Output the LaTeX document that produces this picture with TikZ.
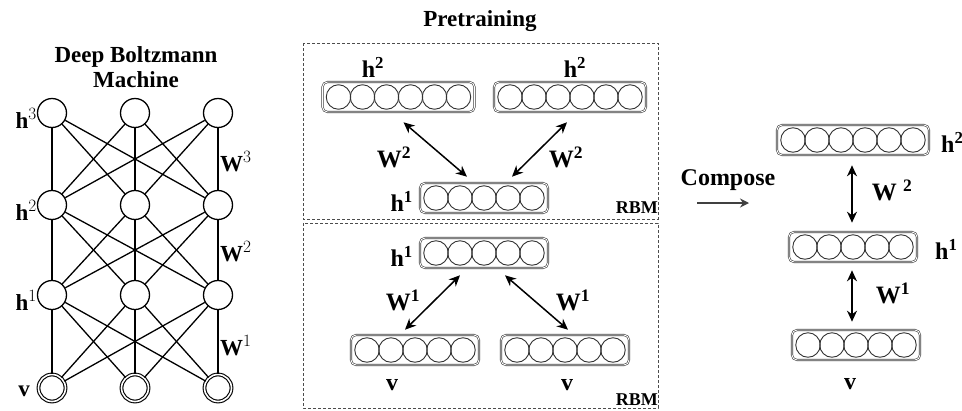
\documentclass[tikz,border=0pt]{standalone}
\usepackage{fontspec}
\setmainfont{Liberation Serif}
\usetikzlibrary{arrows.meta}

\newcommand\fsz[1]{\fontsize{#1}{#1}\selectfont}

% a layer of units: rounded bar holding #4 touching circles
\newcommand\unitlayer[4]{%
  \node[layerbox, minimum width={#4*24+8}] (#1) at (#2,#3) {};
  \foreach \k in {1,...,#4} {
    \node[unitcirc] (#1-\k) at ({#2+(\k-(#4+1)/2)*24},#3) {};
  }%
}

\tikzset{
  dbmnode/.style={circle, draw, line width=1.3pt, minimum size=29pt, inner sep=0pt, fill=white},
  visnode/.style={circle, draw, line width=1.1pt, double=white, double distance=1.6pt, minimum size=27pt, inner sep=0pt, fill=white},
  dbmedge/.style={line width=1.3pt},
  layerbox/.style={rectangle, rounded corners=5pt, draw=black!75, double=white, double distance=0.9pt, line width=0.6pt, minimum height=30pt, inner sep=0pt},
  unitcirc/.style={circle, draw=black!80, line width=0.9pt, minimum size=24.5pt, inner sep=0pt},
  rbmframe/.style={draw=black!70, line width=0.8pt, dash pattern=on 3pt off 2pt},
  biarrow/.style={line width=1.5pt, {Stealth[length=11pt,width=10pt]}-{Stealth[length=11pt,width=10pt]}},
  titletext/.style={font=\fsz{23}\bfseries, inner sep=0pt},
  lbl/.style={font=\fsz{24}\bfseries, inner sep=0pt},
  wlbl/.style={font=\fsz{25}\bfseries, inner sep=0pt},
  dbmlbl/.style={font=\fsz{23}, inner sep=0pt},
  rbmlbl/.style={font=\fsz{18}\bfseries, inner sep=0pt}
}

\begin{document}
\begin{tikzpicture}[x=1pt,y=-1pt]
\useasboundingbox (0,0) rectangle (962,410);

% ---------------- Deep Boltzmann Machine ----------------
\node[titletext, anchor=base] (dbmtitle1) at (136,62) {Deep Boltzmann};
\node[titletext, anchor=base] (dbmtitle2) at (136,87) {Machine};

\foreach \c/\x in {1/52,2/135,3/218} {
  \node[dbmnode] (h3-\c) at (\x,113) {};
  \node[dbmnode] (h2-\c) at (\x,205) {};
  \node[dbmnode] (h1-\c) at (\x,295) {};
  \node[visnode] (v-\c)  at (\x,388) {};
}
\foreach \a in {1,2,3} {
  \foreach \b in {1,2,3} {
    \draw[dbmedge] (h3-\a) -- (h2-\b);
    \draw[dbmedge] (h2-\a) -- (h1-\b);
    \draw[dbmedge] (h1-\a) -- (v-\b);
  }
}

\node[dbmlbl, anchor=east] (lh3) at (37,118) {$\mathbf{h}^3$};
\node[dbmlbl, anchor=east] (lh2) at (37,210) {$\mathbf{h}^2$};
\node[dbmlbl, anchor=east] (lh1) at (37,300) {$\mathbf{h}^1$};
\node[dbmlbl, anchor=east] (lv)  at (30,391) {$\mathbf{v}$};
\node[dbmlbl, anchor=west] (lw3) at (220,162) {$\mathbf{W}^3$};
\node[dbmlbl, anchor=west] (lw2) at (220,252) {$\mathbf{W}^2$};
\node[dbmlbl, anchor=west] (lw1) at (220,346) {$\mathbf{W}^1$};

% ---------------- Pretraining ----------------
\node[titletext] (pretitle) at (480,21) {Pretraining};

\draw[rbmframe] (303,43) rectangle (658,219);
\draw[rbmframe] (303,223) rectangle (658,408);

% upper RBM: h1 -> h2
\unitlayer{ph2l}{398.5}{97}{6}
\unitlayer{ph2r}{570}{97}{6}
\unitlayer{ph1}{484}{198}{5}
\node[lbl] (lph2l) at (373,67) {h\textsuperscript{2}};
\node[lbl] (lph2r) at (575,67) {h\textsuperscript{2}};
\node[lbl, anchor=east] (lph1) at (413,201) {h\textsuperscript{1}};
\draw[biarrow] ([shift={(5,10)}]ph2l.south) -- ([shift={(-17,-6)}]ph1.north);
\draw[biarrow] ([shift={(-3,10)}]ph2r.south) -- ([shift={(28,-6)}]ph1.north);
\node[wlbl] (lpw2l) at (394,157) {W\textsuperscript{2}};
\node[wlbl] (lpw2r) at (566,157) {W\textsuperscript{2}};
\node[rbmlbl, anchor=base east] (rbmup) at (658,213) {RBM};

% lower RBM: v -> h1
\unitlayer{qh1}{484}{253}{5}
\unitlayer{qvl}{415}{350}{5}
\unitlayer{qvr}{565}{350}{5}
\node[lbl, anchor=east] (lqh1) at (413,256) {h\textsuperscript{1}};
\node[lbl] (lqvl) at (392,385) {v};
\node[lbl] (lqvr) at (567,385) {v};
\draw[biarrow] ([shift={(-24,7)}]qh1.south) -- ([shift={(-10,-5)}]qvl.north);
\draw[biarrow] ([shift={(21,7)}]qh1.south) -- ([shift={(3,-5)}]qvr.north);
\node[wlbl] (lqw1l) at (403,300) {W\textsuperscript{1}};
\node[wlbl] (lqw1r) at (573,300) {W\textsuperscript{1}};
\node[rbmlbl, anchor=base east] (rbmlow) at (658,405) {RBM};

% ---------------- Composed model ----------------
\node[font=\fsz{24}\bfseries, inner sep=0pt] (compose) at (728,180) {Compose};
\coordinate (cfrom) at (697,203);
\coordinate (cto) at (749,203);
\draw[line width=2pt, black!75, -{Stealth[length=9pt,width=9pt]}] (cfrom) -- (cto);

\unitlayer{ch2}{853}{140}{6}
\unitlayer{ch1}{853}{247}{5}
\unitlayer{cv}{856}{345}{5}
\node[lbl, anchor=west] (lch2) at (941,142) {h\textsuperscript{2}};
\node[lbl, anchor=west] (lch1) at (935,249) {h\textsuperscript{1}};
\node[lbl] (lcv) at (850,384) {v};
\draw[biarrow] ([shift={(-1,10)}]ch2.south) -- ([shift={(-1,-9)}]ch1.north);
\draw[biarrow] ([shift={(-1,8)}]ch1.south) -- ([shift={(-4,-8)}]cv.north);
\node[wlbl] (lcw2) at (892,190) {W \textsuperscript{2}};
\node[wlbl] (lcw1) at (893,293) {W\textsuperscript{1}};
\end{tikzpicture}
\end{document}
